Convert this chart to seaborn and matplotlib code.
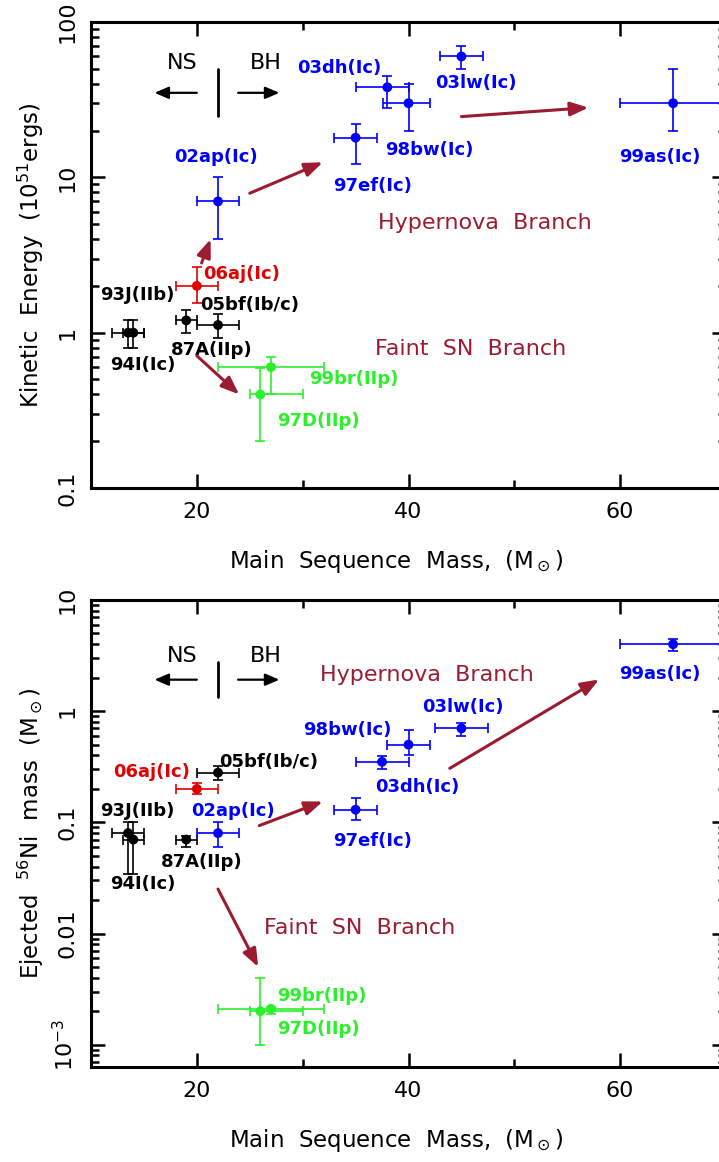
import numpy as np
import pandas as pd
import seaborn as sns
import matplotlib
matplotlib.use("Agg")
from matplotlib import pyplot as plt
import matplotlib.ticker as mtick

# supernova sample, same order in both panels
names = ['87A(IIp)', '93J(IIb)', '94I(Ic)', '05bf(Ib/c)', '06aj(Ic)', '02ap(Ic)', '97ef(Ic)',
         '98bw(Ic)', '03dh(Ic)', '03lw(Ic)', '99as(Ic)', '97D(IIp)', '99br(IIp)']
groups = ['normal', 'normal', 'normal', 'normal', '06aj', 'hyper', 'hyper',
          'hyper', 'hyper', 'hyper', 'hyper', 'faint', 'faint']

# top panel: kinetic energy (1e51 erg) vs main sequence mass
mass_ke = [19, 13.5, 14, 22, 20, 22, 35, 40, 38, 45, 65, 26, 27]
mass_ke_lo = [1, 1.5, 1, 2, 2, 2, 2, 2.4, 3, 2, 5, 1, 5]
mass_ke_hi = [1, 1.5, 1, 2, 2, 2, 2, 2, 2, 2, 5, 4, 5]
ke = [1.2, 1.0, 1.0, 1.12, 2.0, 7, 18, 30, 38, 60, 30, 0.4, 0.6]
ke_lo = [0.2, 0.2, 0.2, 0.19, 0.45, 3, 5.8, 10, 10, 10, 10, 0.2, 0.2]
ke_hi = [0.19, 0.2, 0.2, 0.2, 0.64, 3, 4, 10, 7, 10, 20, 0.19, 0.1]

# bottom panel: ejected 56Ni mass (Msun) vs main sequence mass
mass_ni = [19, 13.5, 14, 22, 20, 22, 35, 40, 37.5, 45, 65, 26, 27]
mass_ni_lo = [1, 1.5, 1, 2, 2, 2, 2, 2, 2.5, 2.5, 5, 1, 5]
mass_ni_hi = [1, 1.5, 1, 2, 2, 2, 2, 2, 2.5, 2.5, 5, 4, 5]
ni = [0.07, 0.08, 0.07, 0.28, 0.2, 0.08, 0.13, 0.5, 0.35, 0.7, 4.0, 0.002, 0.0021]
ni_lo = [0.0105, 0.046, 0.036, 0.04, 0.02, 0.02, 0.024, 0.1, 0.05, 0.1, 0.55, 0.001, 0.0002]
ni_hi = [0.006, 0.02, 0.03, 0.04, 0.027, 0.02, 0.036, 0.18, 0.045, 0.09, 0.45, 0.002, 0.0001]

mass_ticks = [20, 40, 60]
ke_ticks = [0.1, 1, 10, 100]
ke_ticklabels = ['0.1', '1', '10', '100']
ni_ticks = [1e-3, 1e-2, 0.1, 1, 10]
ni_ticklabels = ['10$^{-3}$', '0.01', '0.1', '1', '10']

# label placement (data coords, centre of text)
lab_ke_x = [21.4, 14.4, 14.9, 25.0, 24.25, 21.8, 36.6, 41.95, 33.5, 46.4, 63.7, 31.5, 34.8]
lab_ke_y = [0.77, 1.75, 0.62, 1.50, 2.39, 13.6, 8.8, 15.0, 50.4, 40.3, 13.6, 0.269, 0.5]
lab_ni_x = [20.45, 14.4, 14.86, 26.8, 15.75, 23.4, 36.6, 34.2, 40.8, 45.1, 63.7, 31.5, 31.8]
lab_ni_y = [0.0436, 0.127, 0.0279, 0.347, 0.286, 0.127, 0.0684, 0.684, 0.207, 1.10, 2.14, 0.00138, 0.00275]

colors = {'normal': 'black', '06aj': '#e00000', 'hyper': '#0000ff', 'faint': '#2cf02c'}
maroon = '#9b1c31'

sns.set_theme(style="ticks")
plt.rcParams['font.family'] = ['DejaVu Sans']
plt.rcParams['mathtext.default'] = 'regular'
plt.rcParams['text.color'] = 'black'
plt.rcParams['axes.labelcolor'] = 'black'
plt.rcParams['xtick.color'] = 'black'
plt.rcParams['ytick.color'] = 'black'

df = pd.DataFrame({'name': names, 'group': groups,
                   'mass_ke': mass_ke, 'ke': ke, 'mass_ni': mass_ni, 'ni': ni})

fig = plt.figure(figsize=(7.19, 11.62), dpi=100)
ax1 = fig.add_axes([91/719, 1-488/1162, 635/719, 466/1162])
ax2 = fig.add_axes([91/719, 1-1067/1162, 635/719, 467/1162])


def draw_panel(ax, xcol, ycol, xlo, xhi, ylo, yhi, lab_x, lab_y):
    for g, c in colors.items():
        idx = [i for i, gg in enumerate(groups) if gg == g]
        ax.errorbar(np.array(df[xcol])[idx], np.array(df[ycol])[idx],
                    xerr=[np.array(xlo)[idx], np.array(xhi)[idx]],
                    yerr=[np.array(ylo)[idx], np.array(yhi)[idx]],
                    fmt='none', ecolor=c, elinewidth=1.2, capsize=3.3, capthick=1.2)
    sns.scatterplot(data=df, x=xcol, y=ycol, hue='group', palette=colors,
                    s=50, edgecolor='none', legend=False, ax=ax, zorder=3)
    for i, n in enumerate(names):
        ax.text(lab_x[i], lab_y[i], n, color=colors[groups[i]], fontsize=13,
                fontweight='bold', ha='center', va='center')


draw_panel(ax1, 'mass_ke', 'ke', mass_ke_lo, mass_ke_hi, ke_lo, ke_hi, lab_ke_x, lab_ke_y)
draw_panel(ax2, 'mass_ni', 'ni', mass_ni_lo, mass_ni_hi, ni_lo, ni_hi, lab_ni_x, lab_ni_y)

# branch arrows
arrows_ke = [((20, 0.71), (24, 0.4)), ((20.45, 2.81), (21.3, 4.0)),
             ((25, 7.9), (31.9, 12.5)), ((45, 24.6), (57, 28.1))]
arrows_ni = [((25.9, 0.0935), (31.9, 0.154)), ((43.9, 0.306), (58, 1.93)),
             ((22, 0.0251), (25.8, 0.005))]
for ax, arrs in [(ax1, arrows_ke), (ax2, arrows_ni)]:
    for start, end in arrs:
        ax.annotate('', xy=end, xytext=start,
                    arrowprops=dict(arrowstyle='-|>,head_length=0.9,head_width=0.35',
                                    color=maroon, lw=2.2, shrinkA=0, shrinkB=0))

ax1.text(47.2, 5.08, 'Hypernova  Branch', color=maroon, fontsize=16, ha='center', va='center')
ax1.text(45.9, 0.79, 'Faint  SN  Branch', color=maroon, fontsize=16, ha='center', va='center')
ax2.text(41.75, 2.13, 'Hypernova  Branch', color=maroon, fontsize=16, ha='center', va='center')
ax2.text(35.4, 0.0113, 'Faint  SN  Branch', color=maroon, fontsize=16, ha='center', va='center')

# NS / BH divider
for ax, ytxt, yline, yarr in [(ax1, 54.7, (50, 25), 35), (ax2, 3.11, (2.76, 1.34), 1.92)]:
    ax.text(18.6, ytxt, 'NS', fontsize=16, ha='center', va='center')
    ax.text(26.55, ytxt, 'BH', fontsize=16, ha='center', va='center')
    ax.plot([22, 22], yline, color='black', lw=2)
    ax.annotate('', xy=(16.0, yarr), xytext=(20.0, yarr),
                arrowprops=dict(arrowstyle='-|>,head_length=0.7,head_width=0.3',
                                color='black', lw=1.6, shrinkA=0, shrinkB=0))
    ax.annotate('', xy=(27.8, yarr), xytext=(23.9, yarr),
                arrowprops=dict(arrowstyle='-|>,head_length=0.7,head_width=0.3',
                                color='black', lw=1.6, shrinkA=0, shrinkB=0))

for ax, ticks, labels, ylim in [(ax1, ke_ticks, ke_ticklabels, (0.1, 100)),
                                 (ax2, ni_ticks, ni_ticklabels, (6.3e-4, 10))]:
    ax.set_yscale('log')
    ax.set_xlim(10, 70)
    ax.set_ylim(*ylim)
    ax.xaxis.set_minor_locator(mtick.MultipleLocator(10))
    ax.set_xticks(mass_ticks, labels=[str(t) for t in mass_ticks])
    ax.set_yticks(ticks, labels=labels)
    ax.yaxis.set_minor_locator(mtick.LogLocator(base=10, subs=np.arange(2, 10)))
    ax.yaxis.set_minor_formatter(mtick.NullFormatter())
    for lab in ax.get_yticklabels():
        lab.set_rotation(90)
        lab.set_va('center')
    ax.tick_params(which='both', direction='in', top=True, right=True, width=1.8,
                   color='black', labelcolor='black', labelsize=16, pad=10)
    ax.tick_params(which='major', length=10)
    ax.tick_params(which='minor', length=6)
    for sp in ax.spines.values():
        sp.set_linewidth(2.2)
        sp.set_color('black')
    ax.set_xlabel('Main  Sequence  Mass,  (M$_\\odot$)', fontsize=16.5, color='black')
    ax.xaxis.set_label_coords(0.481, -0.157)
    ax.xaxis.label.set_va('center')

ax1.set_ylabel('Kinetic  Energy  (10$^{51}$ergs)', fontsize=16.5, color='black')
ax2.set_ylabel('Ejected  $^{56}$Ni  mass  (M$_\\odot$)', fontsize=16.5, color='black')
for ax in (ax1, ax2):
    ax.yaxis.set_label_coords(-0.094, 0.5)
    ax.yaxis.label.set_va('center')

fig.savefig('out.png', dpi=100)
